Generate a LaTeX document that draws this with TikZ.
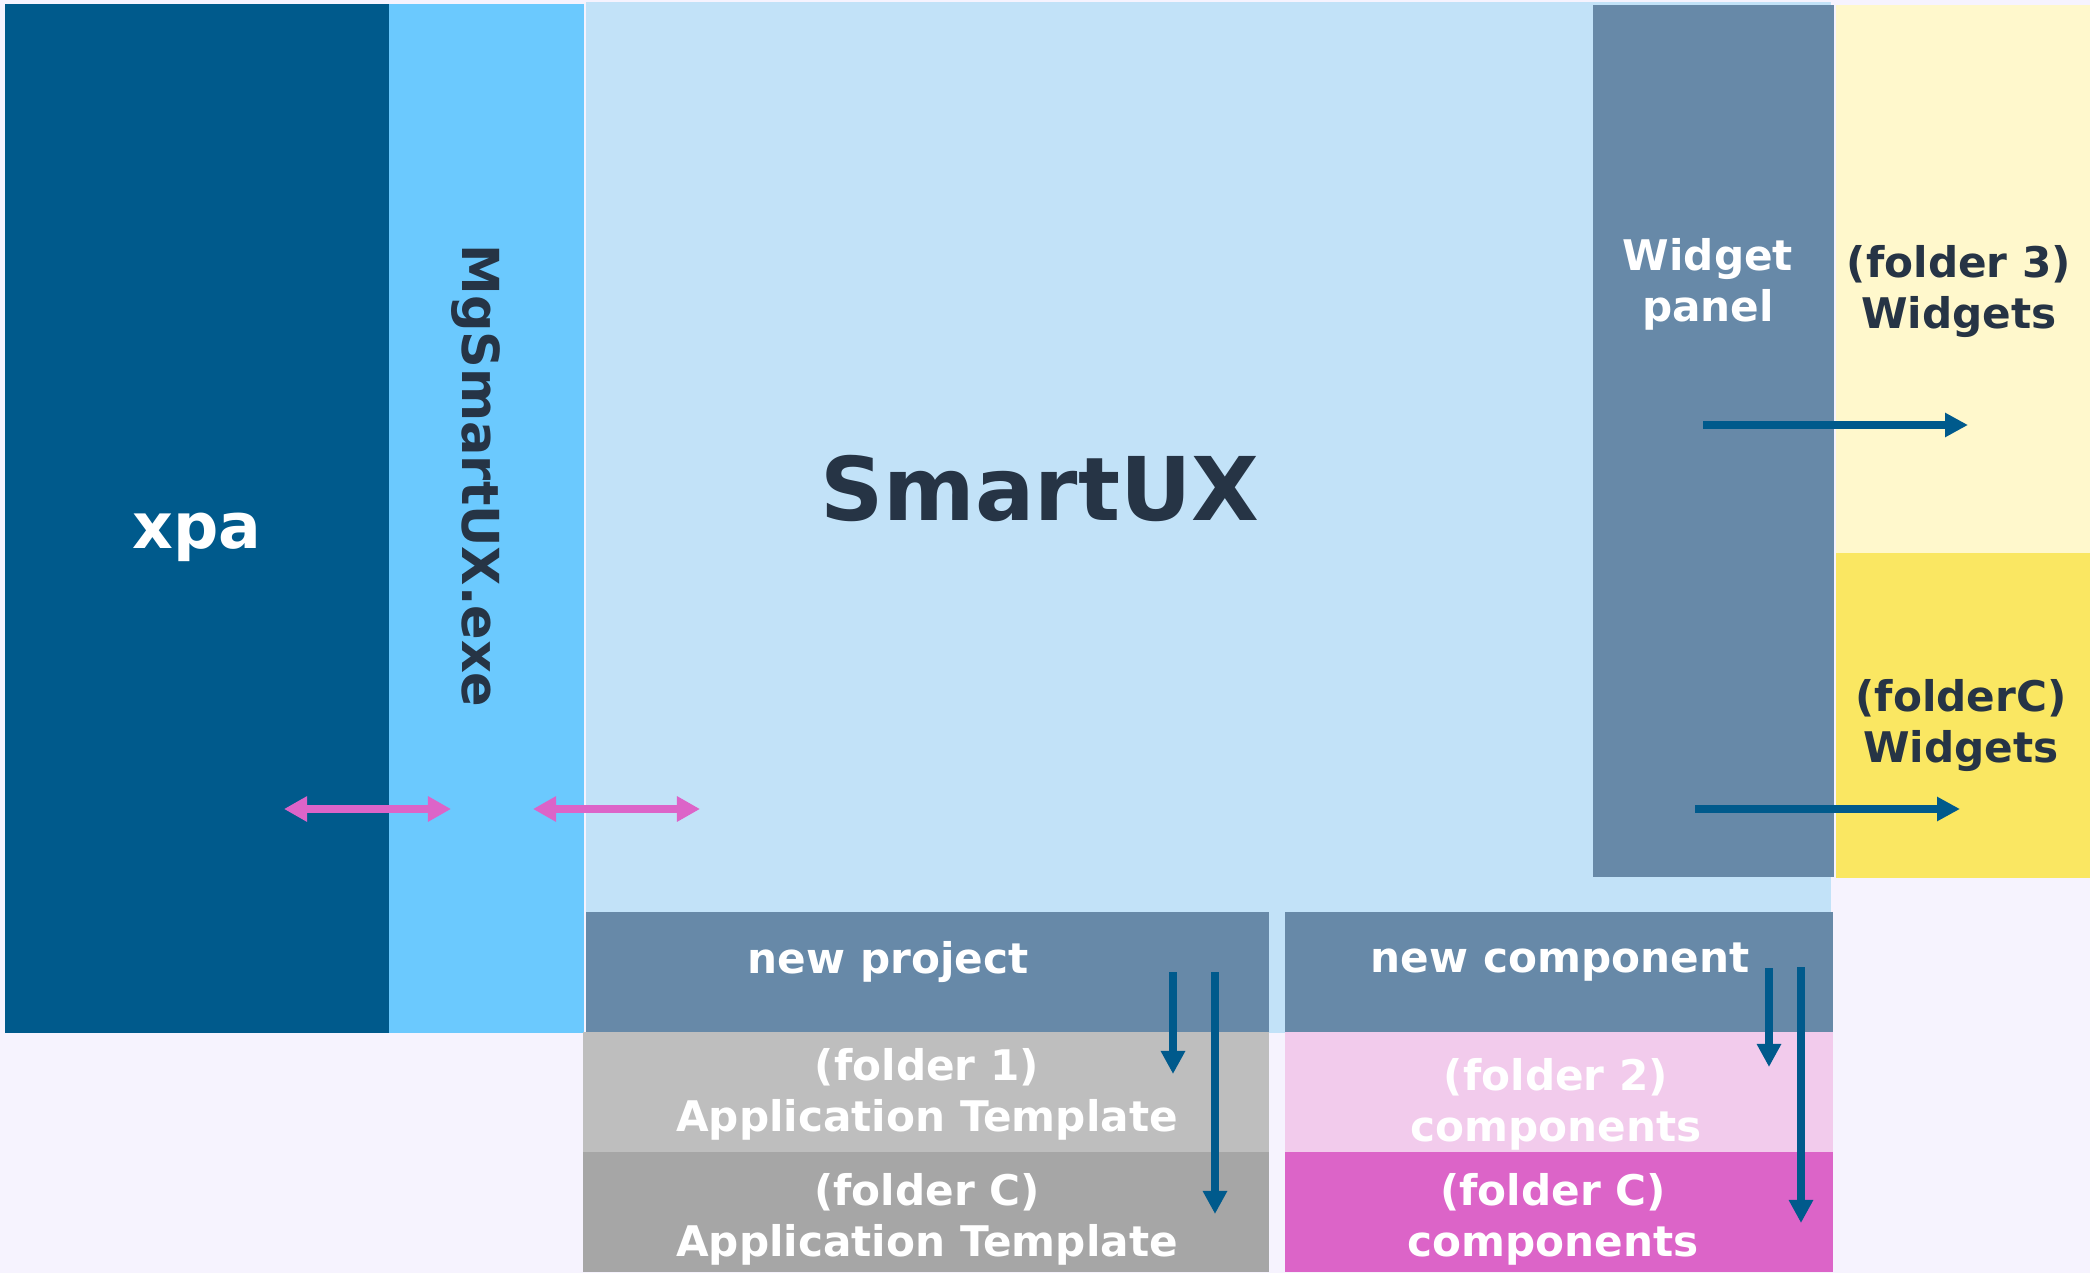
\documentclass[tikz,border=0pt]{standalone}
\usepackage{fontspec}
\setmainfont{DejaVu Sans}
\usepackage{tikz}
\usetikzlibrary{arrows.meta,positioning,fit,calc}
\usepackage{xcolor}

\definecolor{pagebg}{HTML}{F6F3FE}
\definecolor{xpablue}{HTML}{005A8C}
\definecolor{exeblue}{HTML}{6BC9FE}
\definecolor{uxblue}{HTML}{C2E2F8}
\definecolor{steel}{HTML}{6789A8}
\definecolor{paleyellow}{HTML}{FFF8CC}
\definecolor{sunyellow}{HTML}{FAE762}
\definecolor{lightgray}{HTML}{BEBEBE}
\definecolor{midgray}{HTML}{A6A6A6}
\definecolor{palepink}{HTML}{F2CBEC}
\definecolor{orchid}{HTML}{DC64C8}
\definecolor{inktext}{HTML}{263445}

\begin{document}
\begin{tikzpicture}[
    x=0.01cm, y=-0.01cm,
    block/.style={rectangle, inner sep=0pt, outer sep=0pt},
    title/.style={font=\bfseries\fontsize{12}{14.5}\selectfont, align=center},
    flow/.style={-{Triangle[length=0.23cm, width=0.23cm]}, line width=0.08cm, xpablue},
    link/.style={{Triangle[length=0.23cm, width=0.24cm]}-{Triangle[length=0.23cm, width=0.24cm]}, line width=0.08cm, orchid}
]

% Page
\fill[pagebg] (0,0) rectangle (2090,1273);
\useasboundingbox (0,0) rectangle (2090,1273);

% Main columns
\node[block, fill=xpablue, fit={(5,4) (389,1033)}] (xpa) {};
\node[block, fill=exeblue, fit={(389,4) (584,1033)}] (exe) {};
\node[block, fill=uxblue, fit={(586,2) (1831,1033)}] (ux) {};
\node[block, fill=steel, fit={(1593,5) (1834,877)}] (panel) {};

% Widget folders
\node[block, fill=paleyellow, fit={(1836,5) (2090,553)}] (w3) {};
\node[block, fill=sunyellow, fit={(1836,553) (2090,878)}] (wc) {};

% Bottom row
\node[block, fill=steel, fit={(586,912) (1269,1032)}] (newproj) {};
\node[block, fill=steel, fit={(1285,912) (1833,1032)}] (newcomp) {};
\node[block, fill=lightgray, fit={(583,1032) (1269,1152)}] (tpl1) {};
\node[block, fill=midgray, fit={(583,1152) (1269,1272)}] (tplc) {};
\node[block, fill=palepink, fit={(1285,1032) (1833,1152)}] (comp2) {};
\node[block, fill=orchid, fit={(1285,1152) (1833,1272)}] (compc) {};

% Labels
\node[font=\bfseries\fontsize{18}{20}\selectfont, text=white] (xpa-txt) at (197,537) {xpa};
\node[font=\bfseries\fontsize{14.5}{17}\selectfont, text=inktext, rotate=-90] (exe-txt) at (476,476) {MgSmartUX.exe};
\node[font=\bfseries\fontsize{25}{28}\selectfont, text=inktext] (ux-txt) at (1040,488) {SmartUX};
\node[title, text=white] (panel-txt) at (1708,284) {Widget\\panel};
\node[title, text=inktext] (w3-txt) at (1959,292) {(folder 3)\\Widgets};
\node[title, text=inktext] (wc-txt) at (1961,726) {(folderC)\\Widgets};
\node[title, text=white] (newproj-txt) at (888,962) {new project};
\node[title, text=white] (newcomp-txt) at (1560,962) {new component};
\node[title, text=white] (tpl1-txt) at (927,1094) {(folder 1)\\Application Template};
\node[title, text=white] (tplc-txt) at (927,1219) {(folder C)\\Application Template};
\node[title, text=white] (comp2-txt) at (1556,1104) {(folder 2)\\components};
\node[title, text=white] (compc-txt) at (1553,1219) {(folder C)\\components};

% Arrow ends
\coordinate (link1-a) at (284,809);
\coordinate (link1-b) at (451,809);
\coordinate (link2-a) at (533,809);
\coordinate (link2-b) at (700,809);
\coordinate (panel-o1) at (1703,425);
\coordinate (w3-in) at (1968,425);
\coordinate (panel-o2) at (1695,809);
\coordinate (wc-in) at (1960,809);
\coordinate (proj-o1) at (1173,972);
\coordinate (tpl1-in) at (1173,1074);
\coordinate (proj-o2) at (1215,972);
\coordinate (tplc-in) at (1215,1214);
\coordinate (comp-o1) at (1769,968);
\coordinate (comp2-in) at (1769,1067);
\coordinate (comp-o2) at (1801,967);
\coordinate (compc-in) at (1801,1223);

% Connectors
\draw[link] (link1-a) -- (link1-b);
\draw[link] (link2-a) -- (link2-b);
\draw[flow] (panel-o1) -- (w3-in);
\draw[flow] (panel-o2) -- (wc-in);
\draw[flow] (proj-o1) -- (tpl1-in);
\draw[flow] (proj-o2) -- (tplc-in);
\draw[flow] (comp-o1) -- (comp2-in);
\draw[flow] (comp-o2) -- (compc-in);

\end{tikzpicture}
\end{document}
